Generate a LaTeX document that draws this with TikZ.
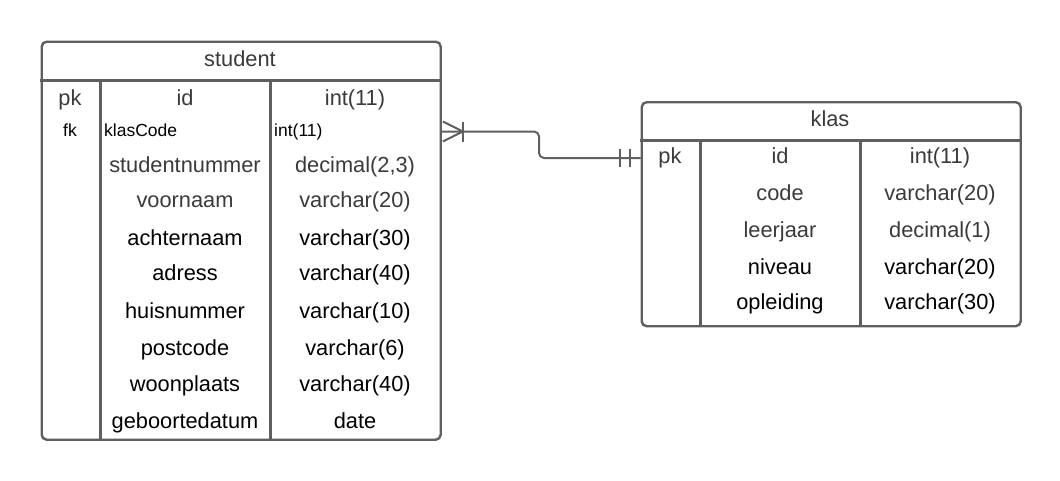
\documentclass[tikz,border=0pt]{standalone}
\usepackage{fontspec}
\setmainfont{Liberation Sans}
\usetikzlibrary{calc}
\definecolor{ln}{HTML}{5F5F5F}
\definecolor{gt}{HTML}{3A3A3A}
\begin{document}
\begin{tikzpicture}[x=1pt,y=-1pt,
  tbl/.style={draw=ln,line width=2.4pt,rounded corners=5pt,inner sep=0pt,anchor=north west},
  sep/.style={draw=ln,line width=2.2pt},
  cell/.style={inner sep=0pt,font=\fontsize{21.8}{24}\selectfont,text height=0.72em,text depth=0.2em,yshift=-6pt},
  small/.style={inner sep=0pt,font=\fontsize{17.5}{20}\selectfont,text height=0.72em,text depth=0.2em,text=black,yshift=-4pt},
  g/.style={cell,text=gt},
  b/.style={cell,text=black},
  conn/.style={draw=ln,line width=2pt}]
\useasboundingbox (0,0) rectangle (1060,480);
% student table
\node[tbl,minimum width=399pt,minimum height=398pt] (student) at (40.5,40.5) {};
\draw[sep] (40,80.5) -- (440,80.5);
\draw[sep] (100.5,80.5) -- (100.5,439);
\draw[sep] (270.5,80.5) -- (270.5,439);
\node[g] (sname) at (240,58) {student};
\node[g] (s1a) at (70,97) {pk};
\node[g] (s1b) at (185,97) {id};
\node[g] (s1c) at (355,97) {int(11)};
\node[small] (s2a) at (70,130) {fk};
\node[small,anchor=west] (s2b) at (104,130) {klasCode};
\node[small,anchor=west] (s2c) at (274,130) {int(11)};
\node[g] (s3b) at (185,164) {studentnummer};
\node[g] (s3c) at (355,164) {decimal(2,3)};
\node[g] (s4b) at (185,199) {voornaam};
\node[g] (s4c) at (355,199) {varchar(20)};
\node[b] (s5b) at (185,237) {achternaam};
\node[b] (s5c) at (355,237) {varchar(30)};
\node[b] (s6b) at (185,272) {adress};
\node[b] (s6c) at (355,272) {varchar(40)};
\node[b] (s7b) at (185,310) {huisnummer};
\node[b] (s7c) at (355,310) {varchar(10)};
\node[b] (s8b) at (185,347) {postcode};
\node[b] (s8c) at (355,347) {varchar(6)};
\node[b] (s9b) at (185,383) {woonplaats};
\node[b] (s9c) at (355,383) {varchar(40)};
\node[b] (s10b) at (185,420) {geboortedatum};
\node[b] (s10c) at (355,420) {date};
% klas table
\node[tbl,minimum width=379pt,minimum height=224pt] (klas) at (640.5,101) {};
\draw[sep] (640,140.5) -- (1020,140.5);
\draw[sep] (700.5,140.5) -- (700.5,324.5);
\draw[sep] (860.5,140.5) -- (860.5,324.5);
\node[g] (kname) at (830,118) {klas};
\node[g] (k1a) at (670,155) {pk};
\node[g] (k1b) at (780,155) {id};
\node[g] (k1c) at (940,155) {int(11)};
\node[g] (k2b) at (780,192) {code};
\node[g] (k2c) at (940,192) {varchar(20)};
\node[g] (k3b) at (780,229) {leerjaar};
\node[g] (k3c) at (940,229) {decimal(1)};
\node[b] (k4b) at (780,266) {niveau};
\node[b] (k4c) at (940,266) {varchar(20)};
\node[b] (k5b) at (780,301) {opleiding};
\node[b] (k5c) at (940,301) {varchar(30)};
% connector
\coordinate (sa) at (student.east |- 0,131.5);
\coordinate (ka) at (klas.west |- 0,158);
\draw[conn,rounded corners=5pt] (sa) -- (539,131.5) -- (539,158) -- (ka);
% crow's foot (many) at student
\draw[conn] ($(sa)+(1,-10)$) -- ($(sa)+(21,0)$) -- ($(sa)+(1,10)$);
\draw[conn] ($(sa)+(21,-10)$) -- ($(sa)+(21,10)$);
% one-and-only-one at klas
\draw[conn] ($(ka)+(-21,-9)$) -- ($(ka)+(-21,9)$);
\draw[conn] ($(ka)+(-11,-9)$) -- ($(ka)+(-11,9)$);
\end{tikzpicture}
\end{document}
